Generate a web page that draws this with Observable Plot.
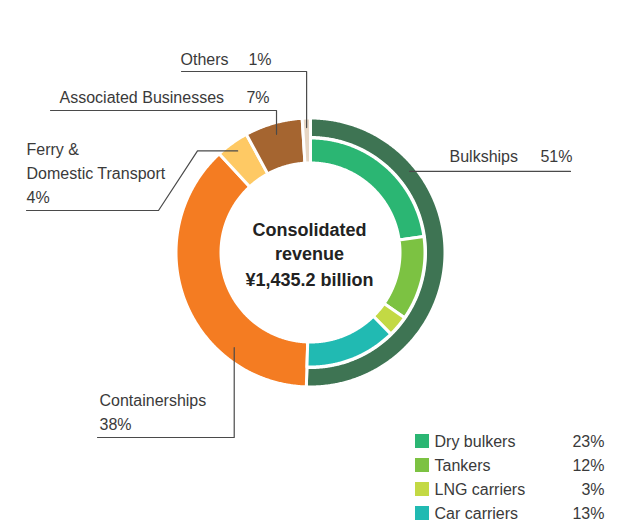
<!DOCTYPE html>
<html>
<head>
<meta charset="utf-8">
<script src="https://cdn.jsdelivr.net/npm/d3@7"></script>
<script src="https://cdn.jsdelivr.net/npm/@observablehq/plot@0.6"></script>
<style>
  html, body { margin: 0; padding: 0; background: #fff; }
  #chart { width: 626px; height: 530px; }
</style>
</head>
<body>
<div id="chart"></div>
<script>
// ---- data ----
const segments = ["Bulkships", "Containerships", "Ferry & Domestic Transport", "Associated Businesses", "Others"];
const segmentShares = [51, 38, 4, 7, 1];
const segmentColors = ["#3e7453", "#f47c22", "#fec964", "#a56530", "#e6d6c4"];
const bulkCategories = ["Dry bulkers", "Tankers", "LNG carriers", "Car carriers"];
const bulkShares = [23, 12, 3, 13];
const bulkColors = ["#2bb673", "#7cc242", "#c3d944", "#21bab2"];
const centerTitle = ["Consolidated", "revenue", "¥1,435.2 billion"];

// ---- layout ----
const W = 626, H = 530;
const cx = 310, cy = 252;
const R_IN = 89.5, R_SUB = 114.5, R_RING = 115, R_OUT = 134.5;
const polar = (a, r) => ({x: cx + r * Math.sin(a), y: cy - r * Math.cos(a)});
const deg = Math.PI / 180;

function arcPolygon(a0, a1, r0, r1, key, color) {
  const n = Math.max(4, Math.ceil((a1 - a0) / (0.4 * deg)));
  const pts = [];
  for (let i = 0; i <= n; i++) { const a = a0 + (a1 - a0) * i / n; pts.push({...polar(a, r1), key, color}); }
  for (let i = n; i >= 0; i--) { const a = a0 + (a1 - a0) * i / n; pts.push({...polar(a, r0), key, color}); }
  return pts;
}

const pie = d3.pie().sort(null).startAngle(0).endAngle(2 * Math.PI);
const segArcs = pie(segmentShares);
const bulkArc = segArcs[0];
const subArcs = d3.pie().sort(null).startAngle(bulkArc.startAngle).endAngle(bulkArc.endAngle)(bulkShares);

let slices = [];
segArcs.forEach((s, i) => {
  if (i === 0) slices = slices.concat(arcPolygon(s.startAngle, s.endAngle, R_RING, R_OUT, segments[i], segmentColors[i]));
  else slices = slices.concat(arcPolygon(s.startAngle, s.endAngle, R_IN, R_OUT, segments[i], segmentColors[i]));
});
subArcs.forEach((s, i) => {
  slices = slices.concat(arcPolygon(s.startAngle, s.endAngle, R_IN, R_SUB, bulkCategories[i], bulkColors[i]));
});

// leader lines: anchor on the ring (angle, radius), then elbow points
const mid = s => (s.startAngle + s.endAngle) / 2;
const leaders = [
  {id: "Bulkships", anchor: polar(50.7 * deg, 128), path: [{x: 570, y: null}]},
  {id: "Containerships", anchor: polar(218.7 * deg, 122), path: [{x: null, y: 437}, {x: 97, y: 437}]},
  {id: "Ferry", anchor: polar(mid(segArcs[2]), 125), path: [{x: 197, y: null}, {x: 158, y: 210}, {x: 26, y: 210}]},
  {id: "Associated", anchor: polar(mid(segArcs[3]), 123), path: [{x: null, y: 110}, {x: 50, y: 110}]},
  {id: "Others", anchor: polar(mid(segArcs[4]), 125), path: [{x: null, y: 71}, {x: 181, y: 71}]}
];
const leaderPts = [];
leaders.forEach(l => {
  let prev = {x: l.anchor.x, y: l.anchor.y};
  leaderPts.push({id: l.id, ...prev});
  l.path.forEach(p => {
    const q = {x: p.x == null ? prev.x : p.x, y: p.y == null ? prev.y : p.y};
    leaderPts.push({id: l.id, ...q});
    prev = q;
  });
});

const labels = [
  {text: "Bulkships", x: 449, y: 156, anchor: "start"},
  {text: segmentShares[0] + "%", x: 572, y: 156, anchor: "end"},
  {text: "Containerships", x: 99, y: 400, anchor: "start"},
  {text: segmentShares[1] + "%", x: 99, y: 424, anchor: "start"},
  {text: "Ferry &", x: 26, y: 149, anchor: "start"},
  {text: "Domestic Transport", x: 26, y: 173, anchor: "start"},
  {text: segmentShares[2] + "%", x: 26, y: 197, anchor: "start"},
  {text: "Associated Businesses", x: 59, y: 97, anchor: "start"},
  {text: segmentShares[3] + "%", x: 269, y: 97, anchor: "end"},
  {text: "Others", x: 180, y: 59, anchor: "start"},
  {text: segmentShares[4] + "%", x: 271, y: 59, anchor: "end"}
];
const labelsStart = labels.filter(d => d.anchor === "start");
const labelsEnd = labels.filter(d => d.anchor === "end");

const legendRows = bulkCategories.map((c, i) => ({name: c, share: bulkShares[i] + "%", color: bulkColors[i], yc: 441 + i * 24}));

const chart = Plot.plot({
  width: W, height: H,
  margin: 0,
  x: {domain: [0, W], range: [0, W], axis: null},
  y: {domain: [0, H], range: [0, H], axis: null},
  color: {type: "identity"},
  style: {fontFamily: "'Liberation Sans', Arial, sans-serif", background: "#fff"},
  marks: [
    Plot.line(slices, {x: "x", y: "y", z: "key", fill: "color", stroke: "white", strokeWidth: 3, curve: "linear-closed"}),
    Plot.line(leaderPts, {x: "x", y: "y", z: "id", stroke: "#4a4a4a", strokeWidth: 1.2}),
    Plot.text(labelsStart, {x: "x", y: "y", text: "text", textAnchor: "start", lineAnchor: "middle", fontSize: 16, fill: "#3a3a3a"}),
    Plot.text(labelsEnd, {x: "x", y: "y", text: "text", textAnchor: "end", lineAnchor: "middle", fontSize: 16, fill: "#3a3a3a"}),
    Plot.text(centerTitle, {x: () => cx - 1, y: (d, i) => 230 + i * 24 + (i === 2 ? 2 : 0), text: d => d, textAnchor: "middle", lineAnchor: "middle", fontSize: 18, fontWeight: "bold", fill: "#222"}),
    Plot.rect(legendRows, {x1: () => 415, x2: () => 429, y1: d => d.yc - 7, y2: d => d.yc + 7, fill: "color"}),
    Plot.text(legendRows, {x: () => 434, y: "yc", text: "name", textAnchor: "start", lineAnchor: "middle", fontSize: 16, fill: "#3a3a3a"}),
    Plot.text(legendRows, {x: () => 604, y: "yc", text: "share", textAnchor: "end", lineAnchor: "middle", fontSize: 16, fill: "#3a3a3a"})
  ]
});
document.getElementById("chart").appendChild(chart);
</script>
</body>
</html>
